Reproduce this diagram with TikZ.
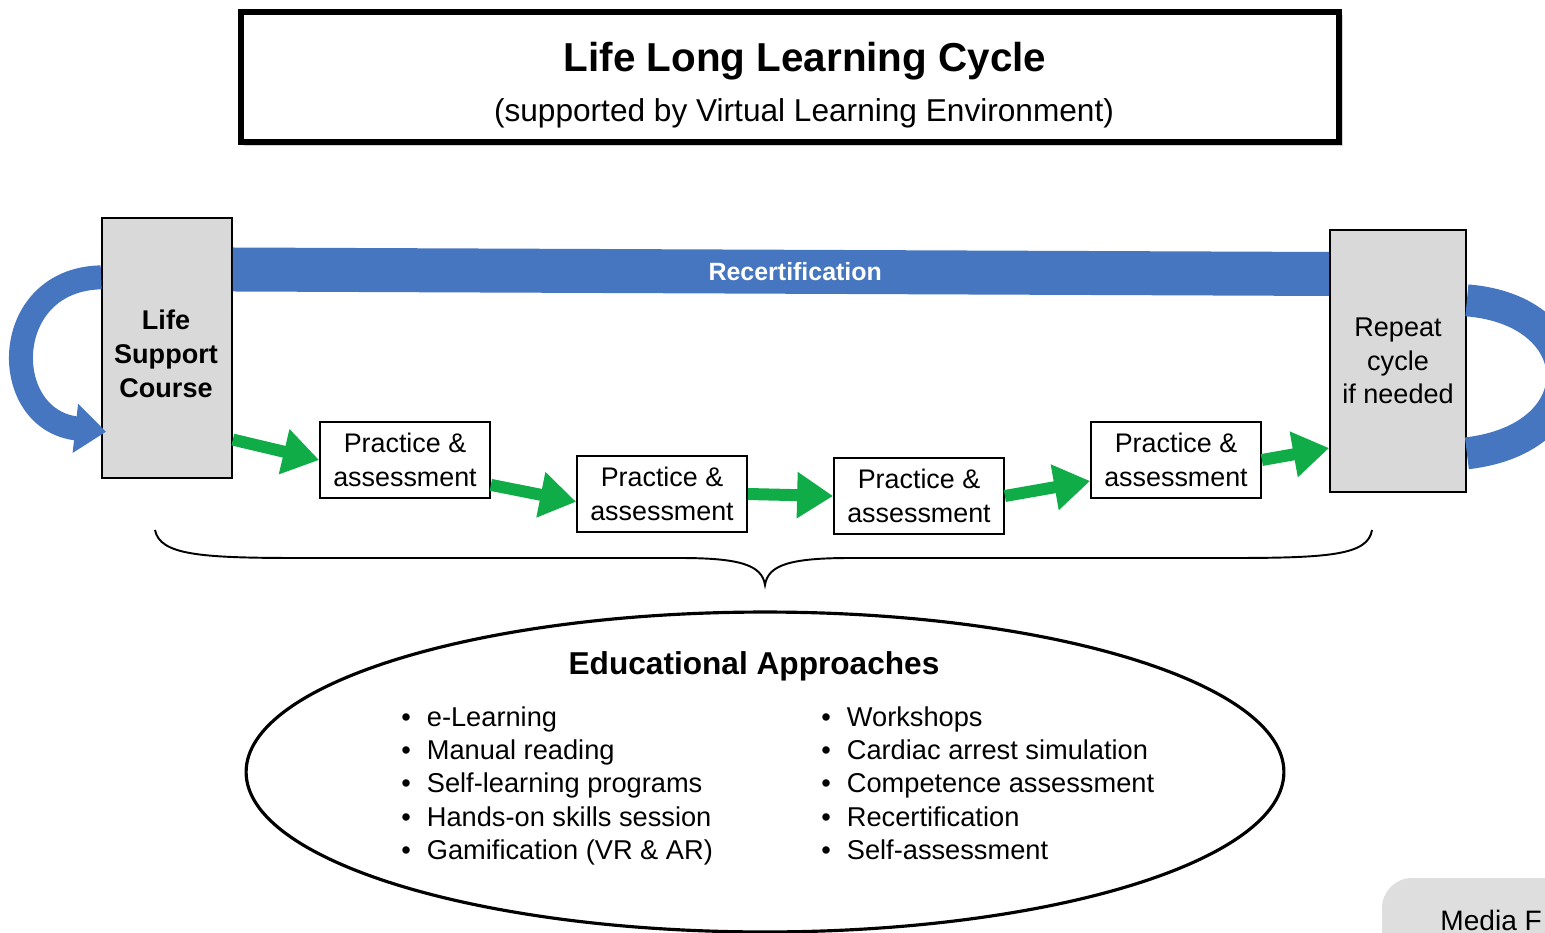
\documentclass[tikz,border=0pt]{standalone}
\usepackage{fontspec}
\setmainfont{Liberation Sans}
\usetikzlibrary{
    arrows.meta,
    shapes.geometric,
    positioning,
    calc,
    shadows
}
\definecolor{bandblue}{RGB}{70, 118, 192}
\definecolor{stepgreen}{RGB}{16, 172, 72}
\definecolor{boxgray}{RGB}{217, 217, 217}
\definecolor{mediagray}{RGB}{222, 222, 222}

\begin{document}
\begin{tikzpicture}[
        x=0.02cm, y=-0.02cm,
        pabox/.style={rectangle, draw, fill=white, line width=1pt, minimum width=3.4cm, minimum height=1.52cm, align=center, inner sep=1pt, font=\fontsize{15.3}{19.3}\selectfont},
        graybox/.style={rectangle, draw, fill=boxgray, line width=1pt, align=center, font=\fontsize{15.4}{19}\selectfont},
        greenarrow/.style={-{Triangle[length=0.72cm, width=0.88cm]}, line width=0.24cm, stepgreen},
        band/.style={bandblue, line width=0.88cm},
        looparrow/.style={bandblue, line width=0.48cm},
        listtext/.style={align=left, anchor=north west, inner sep=0pt, font=\fontsize{15.5}{19}\selectfont}
    ]
        \useasboundingbox (0,0) rectangle (1545,933);
        \clip (0,0) rectangle (1545,933);

        % Header
        \node[draw, fill=white, line width=0.12cm, minimum width=21.98cm, minimum height=2.62cm,
              drop shadow={shadow xshift=0.07cm, shadow yshift=-0.07cm, opacity=0.35}] (titlebox) at (790,77) {};
        \node[anchor=base, font=\bfseries\fontsize{23}{27}\selectfont] (title) at (805,71) {Life Long Learning Cycle};
        \node[anchor=base, font=\fontsize{18}{22}\selectfont] (subtitle) at (804,121) {(supported by Virtual Learning Environment)};

        % Row 1: course and repeat
        \node[graybox, minimum width=2.6cm, minimum height=5.2cm] (lsc) at (167,348) {};
        \node[font=\bfseries\fontsize{15.4}{19.5}\selectfont, align=center] (lsctext) at (166,354) {Life\\Support\\Course};
        \node[graybox, minimum width=2.72cm, minimum height=5.24cm] (repeat) at (1398,361) {Repeat\\cycle\\if needed};

        % Row 2: practice steps
        \node[pabox] (pa1) at (405,460) {Practice \&\\assessment};
        \node[pabox] (pa2) at (662,494) {Practice \&\\assessment};
        \node[pabox] (pa3) at (919,496) {Practice \&\\assessment};
        \node[pabox] (pa4) at (1176,460) {Practice \&\\assessment};

        % Recertification band
        \draw[band] ($(lsc.north east)!0.2!(lsc.south east)$) --
            node[pos=0.513, text=white, font=\bfseries\fontsize{14.2}{17}\selectfont] (recert) {Recertification}
            ($(repeat.north west)!0.17!(repeat.south west)$);

        % Arrows
        \draw[greenarrow] ($(lsc.north east)!0.85!(lsc.south east)$) -- (pa1.west);
        \draw[greenarrow] ($(pa1.north east)!0.82!(pa1.south east)$) -- ($(pa2.north west)!0.6!(pa2.south west)$);
        \draw[greenarrow] (pa2.east) -- (pa3.west);
        \draw[greenarrow] (pa3.east) -- ($(pa4.north west)!0.77!(pa4.south west)$);
        \draw[greenarrow] (pa4.east) -- ($(repeat.north west)!0.83!(repeat.south west)$);

        % Loops
        \draw[looparrow, -{Triangle[length=0.62cm, width=0.95cm]}] ($(lsc.north west)!0.23!(lsc.south west)$)
            .. controls +(-102,2) and +(-108,-12) .. ([xshift=0.1cm]$(lsc.north west)!0.82!(lsc.south west)$);
        \draw[looparrow, line width=0.64cm] ($(repeat.north east)!0.27!(repeat.south east)$)
            .. controls +(125,10) and +(130,-15) .. ($(repeat.north east)!0.85!(repeat.south east)$);

        % Brace
        \draw[line width=1.1pt] (155,530) .. controls (160,555) and (200,558) .. (300,558) -- (680,558)
            .. controls (740,558) and (762,565) .. (765,585)
            .. controls (768,565) and (790,558) .. (850,558) -- (1230,558)
            .. controls (1330,558) and (1368,555) .. (1372,530);

        % Educational approaches
        \node[ellipse, draw, line width=1.8pt, inner sep=0pt, minimum width=20.76cm, minimum height=6.4cm] (approaches) at (765,772) {};
        \node[anchor=base, font=\bfseries\fontsize{18}{22}\selectfont] (apptitle) at (754,674) {Educational Approaches};
        \node[listtext] (leftlist) at (401,706) {%
            •\hspace{0.32cm}e-Learning\\
            •\hspace{0.32cm}Manual reading\\
            •\hspace{0.32cm}Self-learning programs\\
            •\hspace{0.32cm}Hands-on skills session\\
            •\hspace{0.32cm}Gamification (VR \& AR)};
        \node[listtext] (rightlist) at (821,706) {%
            •\hspace{0.32cm}Workshops\\
            •\hspace{0.32cm}Cardiac arrest simulation\\
            •\hspace{0.32cm}Competence assessment\\
            •\hspace{0.32cm}Recertification\\
            •\hspace{0.32cm}Self-assessment};

        % Media button
        \fill[mediagray, rounded corners=0.6cm] (1382,878) rectangle (1650,1000);
        \node[anchor=base west, font=\fontsize{16}{19}\selectfont, inner sep=0pt] (media) at (1440,930) {Media F};
    \end{tikzpicture}
\end{document}
